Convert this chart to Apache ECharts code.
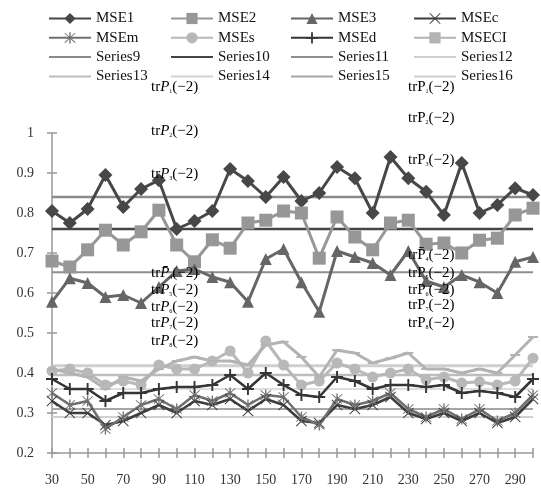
<!DOCTYPE html>
<html>
<head>
<meta charset="utf-8">
<script src="https://cdn.jsdelivr.net/npm/echarts@6/dist/echarts.min.js"></script>
<style>
  html, body { margin: 0; padding: 0; background: #fff; }
  #main { width: 541px; height: 491px; }
</style>
</head>
<body>
<div id="main"></div>
<script>
var categories = ['30','40','50','60','70','80','90','100','110','120','130','140','150','160','170','180','190','200','210','220','230','240','250','260','270','280','290','300'];

var mse1  = [0.805,0.775,0.81,0.895,0.815,0.86,0.882,0.76,0.78,0.805,0.91,0.88,0.84,0.89,0.83,0.85,0.915,0.887,0.80,0.94,0.887,0.853,0.795,0.925,0.80,0.82,0.862,0.845];
var mse2  = [0.68,0.665,0.708,0.757,0.72,0.753,0.807,0.72,0.678,0.733,0.712,0.775,0.782,0.805,0.80,0.687,0.79,0.74,0.708,0.775,0.782,0.722,0.725,0.70,0.732,0.737,0.795,0.812];
var mse3  = [0.578,0.637,0.625,0.59,0.595,0.575,0.615,0.655,0.66,0.64,0.627,0.578,0.685,0.71,0.627,0.553,0.705,0.69,0.675,0.645,0.705,0.63,0.615,0.645,0.627,0.60,0.678,0.69];
var msec  = [0.33,0.30,0.30,0.27,0.28,0.30,0.32,0.30,0.33,0.32,0.335,0.305,0.335,0.32,0.28,0.275,0.32,0.31,0.32,0.34,0.30,0.285,0.30,0.28,0.30,0.275,0.29,0.335];
var msem  = [0.35,0.32,0.33,0.26,0.29,0.32,0.335,0.31,0.345,0.33,0.35,0.32,0.345,0.34,0.29,0.27,0.335,0.32,0.33,0.35,0.31,0.29,0.31,0.285,0.31,0.28,0.30,0.345];
var mses  = [0.405,0.41,0.40,0.37,0.38,0.37,0.42,0.41,0.41,0.43,0.455,0.40,0.48,0.42,0.37,0.38,0.425,0.41,0.39,0.40,0.41,0.383,0.39,0.375,0.378,0.37,0.38,0.437];
var msed  = [0.385,0.36,0.36,0.33,0.35,0.35,0.36,0.365,0.365,0.37,0.395,0.36,0.40,0.37,0.345,0.34,0.39,0.38,0.36,0.37,0.37,0.365,0.37,0.35,0.355,0.35,0.34,0.385];
var mseci = [0.41,0.40,0.39,0.36,0.39,0.38,0.41,0.43,0.44,0.43,0.43,0.42,0.47,0.478,0.44,0.39,0.457,0.45,0.425,0.437,0.45,0.41,0.41,0.40,0.41,0.40,0.445,0.49];

// constant reference levels, Series9..Series16
var levels = [0.84, 0.76, 0.652, 0.418, 0.395, 0.36, 0.31, 0.29];
var levelNames = ['Series9','Series10','Series11','Series12','Series13','Series14','Series15','Series16'];
var levelColors = ['#8a8a8a','#454545','#8f8f8f','#cfcfcf','#bdbdbd','#d4d4d4','#a6a6a6','#d0d0d0'];
var levelWidths = [2.5, 2.5, 2, 3, 2.5, 1.5, 2, 2];

var yTicks = [0.2, 1, 0.1]; // min, max, step

var plusPath = 'path://M4.2,0H5.8V10H4.2Z M0,4.2H10V5.8H0Z';
var crossPath = 'path://M0.6,0L5,4.4L9.4,0L10,0.6L5.6,5L10,9.4L9.4,10L5,5.6L0.6,10L0,9.4L4.4,5L0,0.6Z';
var starPath = 'path://M0.6,0.4L5,4.4L9.4,0.4L10,1L5.6,5L10,9L9.4,9.6L5,5.6L0.6,9.6L0,9L4.4,5L0,1Z M4.4,0H5.6V10H4.4Z';
var linePath = 'path://M0,0H42V2H0Z';

function mseSeries(name, data, color, symbol, size, width) {
    return {
        name: name,
        type: 'line',
        data: data,
        symbol: symbol,
        symbolSize: size,
        showAllSymbol: true,
        lineStyle: { color: color, width: width },
        itemStyle: { color: color },
        z: 3
    };
}

var series = [
    mseSeries('MSE1', mse1, '#474747', 'diamond', 14, 3),
    mseSeries('MSE2', mse2, '#979797', 'rect', 13, 3),
    mseSeries('MSE3', mse3, '#666666', 'triangle', 12, 3),
    mseSeries('MSEc', msec, '#3d3d3d', crossPath, 11, 2.5),
    mseSeries('MSEm', msem, '#6f6f6f', starPath, 11, 2.5),
    mseSeries('MSEs', mses, '#b8b8b8', 'circle', 11, 3),
    mseSeries('MSEd', msed, '#353535', plusPath, 12, 2.5),
    mseSeries('MSECI', mseci, '#b3b3b3', 'rect', [10, 2], 3)
];
levels.forEach(function (lv, i) {
    series.push({
        name: levelNames[i],
        type: 'line',
        data: categories.map(function () { return lv; }),
        symbol: 'none',
        lineStyle: { color: levelColors[i], width: levelWidths[i] },
        itemStyle: { color: levelColors[i] },
        z: 2
    });
});

// text annotations
var noteRich = {
    a: { fontFamily: 'Liberation Serif', fontSize: 15, color: '#111' },
    p: { fontFamily: 'Liberation Serif', fontSize: 15, color: '#111', fontStyle: 'italic' },
    q: { fontFamily: 'Liberation Serif', fontSize: 15, color: '#111' },
    s: { fontFamily: 'Liberation Serif', fontSize: 6, color: '#e2e2e2', padding: [8, 0, 0, 0] }
};
var notesLeft  = [87, 131, 174, 273, 290, 307, 323, 341];
var notesRight = [87, 118, 160, 255, 273, 290, 305, 323];
var graphics = [];
function addNote(x, y, italic, bar, idx) {
    var pText = bar ? 'P\u0304' : 'P';
    graphics.push({
        type: 'text',
        x: x,
        y: y,
        z: 10,
        style: {
            text: '{a|tr}{' + (italic ? 'p' : 'q') + '|' + pText + '}{s|' + idx + '}{a|(\u22122)}',
            rich: noteRich,
            verticalAlign: 'middle',
            align: 'left'
        }
    });
}
notesLeft.forEach(function (y, i) { addNote(151, y, true, i === 3, i + 1); });
notesRight.forEach(function (y, i) { addNote(408, y, false, i === 3, i + 1); });

var names = series.map(function (s) { return s.name; });
function legendItem(n) {
    return n.indexOf('Series') === 0 ? { name: n, icon: linePath } : { name: n };
}
var colX = [48, 170, 290, 413];
var legends = colX.map(function (x, c) {
    return {
        orient: 'vertical',
        left: x,
        top: 11,
        itemWidth: 42,
        itemHeight: 14,
        itemGap: 4.3,
        padding: 0,
        symbolKeepAspect: true,
        textStyle: { fontFamily: 'Liberation Serif', fontSize: 15, color: '#111' },
        data: [names[c], names[c + 4], names[c + 8], names[c + 12]].map(legendItem)
    };
});

var axisFont = { fontFamily: 'Liberation Serif', fontSize: 14, color: '#333' };

var option = {
    animation: false,
    legend: legends,
    grid: { left: 52, right: 8, top: 133, bottom: 38 },
    xAxis: [{
        type: 'category',
        data: categories,
        boundaryGap: false,
        axisLine: { lineStyle: { color: '#999', width: 1.5 } },
        axisTick: { interval: 0, length: 5, lineStyle: { color: '#999', width: 1.5 } },
        axisLabel: Object.assign({ interval: 1, margin: 20 }, axisFont),
        splitLine: { show: false }
    }, {
        type: 'category',
        data: categories,
        boundaryGap: false,
        position: 'bottom',
        axisLine: { show: false },
        axisTick: { interval: 0, inside: true, length: 5, lineStyle: { color: '#999', width: 1.5 } },
        axisLabel: { show: false }
    }],
    yAxis: [{
        type: 'value',
        min: yTicks[0],
        max: yTicks[1],
        interval: yTicks[2],
        axisLine: { show: true, lineStyle: { color: '#999', width: 1.5 } },
        axisTick: { show: true, length: 5, lineStyle: { color: '#999', width: 1.5 } },
        axisLabel: Object.assign({ margin: 18 }, axisFont),
        splitLine: { show: false }
    }, {
        type: 'value',
        min: yTicks[0],
        max: yTicks[1],
        interval: yTicks[2],
        position: 'left',
        axisLine: { show: false },
        axisTick: { show: true, inside: true, length: 5, lineStyle: { color: '#999', width: 1.5 } },
        axisLabel: { show: false },
        splitLine: { show: false }
    }],
    series: series,
    graphic: graphics
};

var myChart = echarts.init(document.getElementById('main'));
myChart.setOption(option);
</script>
</body>
</html>
